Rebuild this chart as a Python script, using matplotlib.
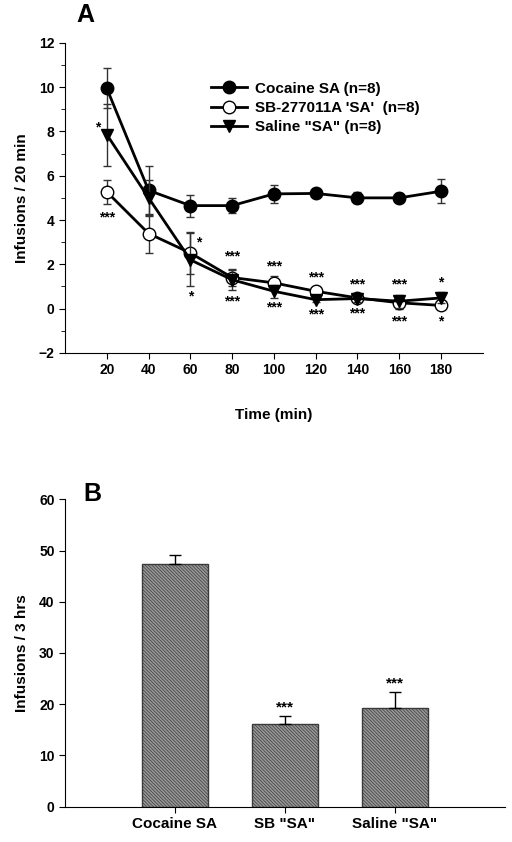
import matplotlib
matplotlib.use('Agg')
import matplotlib.pyplot as plt
import numpy as np

plt.rcParams['font.family'] = 'Liberation Sans'
plt.rcParams['font.weight'] = 'bold'
plt.rcParams['hatch.color'] = '#606060'
plt.rcParams['hatch.linewidth'] = 0.5

# panel A data
time_min = [20, 40, 60, 80, 100, 120, 140, 160, 180]
cocaine = [9.95, 5.34, 4.65, 4.65, 5.18, 5.2, 5.0, 5.0, 5.3]
cocaine_err = [0.9, 1.1, 0.5, 0.35, 0.4, 0.15, 0.25, 0.2, 0.55]
sb = [5.27, 3.39, 2.51, 1.4, 1.16, 0.78, 0.48, 0.26, 0.14]
sb_err = [0.55, 0.9, 0.95, 0.4, 0.3, 0.1, 0.15, 0.3, 0.1]
saline = [7.86, 5.0, 2.2, 1.3, 0.78, 0.4, 0.45, 0.33, 0.48]
saline_err = [1.4, 0.8, 1.2, 0.45, 0.3, 0.1, 0.15, 0.3, 0.25]

# significance marks (x, y, text)
stars_a = [(15.5, 8.2, '*'), (20, 4.1, '***'),
           (64, 3.0, '*'), (60, 0.55, '*'),
           (80, 2.35, '***'), (80, 0.3, '***'),
           (100, 1.9, '***'), (100, 0.05, '***'),
           (120, 1.4, '***'), (120, -0.27, '***'),
           (140, 1.08, '***'), (140, -0.22, '***'),
           (160, 1.08, '***'), (160, -0.6, '***'),
           (180, 1.17, '*'), (180, -0.58, '*')]

# panel B data
groups = ['Cocaine SA', 'SB "SA"', 'Saline "SA"']
totals = [47.3, 16.1, 19.3]
totals_err = [1.8, 1.6, 3.1]
stars_b = ['', '***', '***']

fig = plt.figure(figsize=(5.12, 8.42), dpi=100)

# ---- panel A
ax = fig.add_axes([0.127, 0.581, 0.816, 0.368])
series = [(cocaine, cocaine_err, 'o', 'black', 'Cocaine SA (n=8)', 3),
          (sb, sb_err, 'o', 'white', "SB-277011A 'SA'  (n=8)", 3),
          (saline, saline_err, 'v', 'black', 'Saline "SA" (n=8)', 4)]
for vals, err, mk, fc, lab, z in series:
    ax.errorbar(time_min, vals, yerr=err, fmt='none', ecolor='#333333',
                elinewidth=1, capsize=3, zorder=z - 1)
    ax.plot(time_min, vals, color='black', lw=2, marker=mk, ms=9,
            mfc=fc, mec='black', label=lab, zorder=z)
for x, y, s in stars_a:
    ax.text(x, y, s, ha='center', va='center', fontsize=10)

ax.set_xlim(0, 200)
ax.set_ylim(-2, 12)
ax.set_xticks(time_min)
ax.set_yticks(range(-2, 13, 2))
ax.set_yticks(range(-1, 12, 2), minor=True)
ax.tick_params(labelsize=10, direction='out', length=4)
ax.tick_params(which='minor', direction='out', length=3)
for sp in ['top', 'right']:
    ax.spines[sp].set_visible(False)
ax.set_xlabel('Time (min)', fontsize=11, fontweight='bold', labelpad=22)
ax.set_ylabel('Infusions / 20 min', fontsize=11, fontweight='bold', labelpad=7)
ax.legend(loc='upper left', bbox_to_anchor=(0.33, 0.9), frameon=False,
          fontsize=11, handlelength=2.4, handletextpad=0.5,
          borderpad=0, labelspacing=0.35)
fig.text(0.166, 0.982, 'A', fontsize=18, fontweight='bold', va='center', ha='center')

# ---- panel B
bx = fig.add_axes([0.127, 0.042, 0.859, 0.365])
pos = np.arange(1, len(groups) + 1)
bx.bar(pos, totals, width=0.6, color='#979797', edgecolor='#3a3a3a', lw=1,
       hatch='\\\\\\\\\\\\\\\\\\\\', zorder=2)
bx.errorbar(pos, totals, yerr=[np.zeros(len(totals)), totals_err], fmt='none',
            ecolor='black', elinewidth=1, capsize=4, zorder=3)
for p, t, e, s in zip(pos, totals, totals_err, stars_b):
    if s:
        bx.text(p, t + e + 1.6, s, ha='center', va='center', fontsize=11)
bx.set_xlim(0, 4)
bx.set_ylim(0, 60)
bx.set_xticks(pos)
bx.set_xticklabels(groups, fontsize=11)
bx.set_yticks(range(0, 61, 10))
bx.tick_params(axis='y', labelsize=10)
bx.tick_params(direction='out', length=4)
for sp in ['top', 'right']:
    bx.spines[sp].set_visible(False)
bx.set_ylabel('Infusions / 3 hrs', fontsize=11, fontweight='bold', labelpad=7)
fig.text(0.18, 0.413, 'B', fontsize=18, fontweight='bold', va='center', ha='center')

fig.savefig('out.png', dpi=100)
